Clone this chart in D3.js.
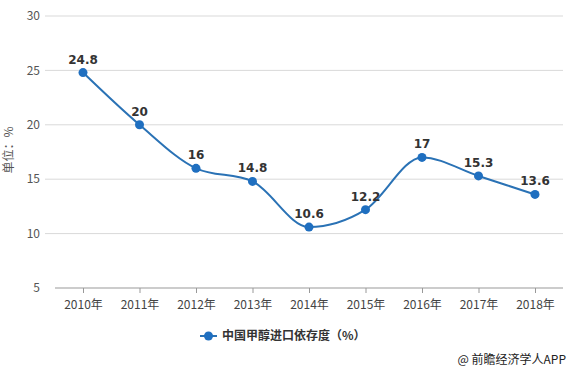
<!DOCTYPE html>
<html>
<head>
<meta charset="utf-8">
<script src="https://d3js.org/d3.v7.min.js"></script>
<style>
body { margin:0; background:#fff; }
text { font-family: "Microsoft YaHei", "Noto Sans CJK SC", "DejaVu Sans", sans-serif; }
</style>
</head>
<body>
<script>

var years = ["2010年","2011年","2012年","2013年","2014年","2015年","2016年","2017年","2018年"];
var values = [24.8, 20, 16, 14.8, 10.6, 12.2, 17, 15.3, 13.6];
var yTicks = [5, 10, 15, 20, 25, 30];
var seriesName = "中国甲醇进口依存度（%）";

var width = 574, height = 371;
var lineColor = "#2a72b5";

var svg = d3.select("body").append("svg")
    .attr("width", width)
    .attr("height", height);

var x = d3.scalePoint()
    .domain(years)
    .range([83, 535]);

var y = d3.scaleLinear()
    .domain([5, 30])
    .range([288, 16]);

// grid lines
svg.append("g")
  .selectAll("line")
  .data(yTicks.filter(function(d){ return d > 5; }))
  .enter().append("line")
    .attr("x1", 45)
    .attr("x2", 563)
    .attr("y1", function(d){ return y(d); })
    .attr("y2", function(d){ return y(d); })
    .attr("stroke", "#d9d9d9")
    .attr("stroke-width", 1);

// y tick labels
svg.append("g")
  .selectAll("text")
  .data(yTicks)
  .enter().append("text")
    .attr("x", 40)
    .attr("y", function(d){ return y(d); })
    .attr("dy", "0.35em")
    .attr("text-anchor", "end")
    .attr("font-size", 12)
    .attr("fill", "#555")
    .text(function(d){ return d; });

// x axis
var xAxis = svg.append("g")
    .attr("transform", "translate(0," + y(5) + ")")
    .call(d3.axisBottom(x).tickSize(5).tickSizeOuter(0));
xAxis.select(".domain").remove();
xAxis.append("line")
    .attr("x1", 55).attr("x2", 563)
    .attr("stroke", "#999");
xAxis.selectAll(".tick line").attr("stroke", "#999");
xAxis.selectAll(".tick text")
    .attr("fill", "#444")
    .attr("font-size", 12)
    .attr("dy", "1.05em")
    .style("font-family", "\"Noto Sans CJK SC\", sans-serif");

// y title
svg.append("text")
    .attr("transform", "translate(13,150) rotate(-90)")
    .attr("text-anchor", "middle")
    .attr("font-size", 12)
    .attr("fill", "#555")
    .text("单位：%");

// line
var line = d3.line()
    .x(function(d, i){ return x(years[i]); })
    .y(function(d){ return y(d); })
    .curve(d3.curveMonotoneX);

svg.append("path")
    .datum(values)
    .attr("d", line)
    .attr("fill", "none")
    .attr("stroke", lineColor)
    .attr("stroke-width", 2);

svg.append("g")
  .selectAll("circle")
  .data(values)
  .enter().append("circle")
    .attr("cx", function(d, i){ return x(years[i]); })
    .attr("cy", function(d){ return y(d); })
    .attr("r", 4.5)
    .attr("fill", "#1f6fc0");

svg.append("g")
  .selectAll("text")
  .data(values)
  .enter().append("text")
    .attr("x", function(d, i){ return x(years[i]); })
    .attr("y", function(d){ return y(d) - 9; })
    .attr("text-anchor", "middle")
    .attr("font-size", 12)
    .attr("font-weight", "bold")
    .attr("fill", "#333")
    .style("font-family", "\"DejaVu Sans\", sans-serif")
    .text(function(d){ return d; });

// legend
var legend = svg.append("g").attr("transform", "translate(200,336)");
legend.append("line")
    .attr("x1", 0).attr("x2", 17)
    .attr("stroke", lineColor)
    .attr("stroke-width", 2);
legend.append("circle")
    .attr("cx", 8.5).attr("r", 4.5)
    .attr("fill", "#1f6fc0");
legend.append("text")
    .attr("x", 22)
    .attr("dy", "0.35em")
    .attr("font-size", 12)
    .attr("font-weight", "bold")
    .attr("fill", "#333")
    .text(seriesName);

// source
svg.append("text")
    .attr("x", 566)
    .attr("y", 360)
    .attr("dy", "0.35em")
    .attr("text-anchor", "end")
    .attr("font-size", 12)
    .attr("fill", "#222")
    .text("@ 前瞻经济学人APP");

</script>
</body>
</html>
